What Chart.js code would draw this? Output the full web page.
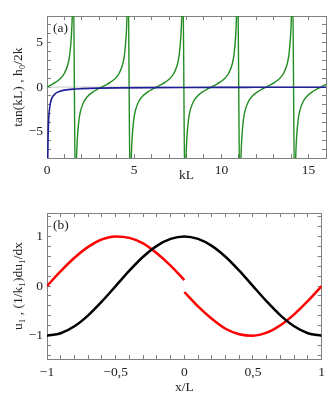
<!DOCTYPE html>
<html>
<head>
<meta charset="utf-8">
<script src="https://cdn.jsdelivr.net/npm/chart.js@4.4.1/dist/chart.umd.min.js"></script>
<style>
  body { margin: 0; background: #fff; }
  .panel { position: absolute; left: 0; width: 334px; height: 197px; }
  #pa { top: 0; }
  #pb { top: 197px; }
</style>
</head>
<body>
<div class="panel" id="pa"><canvas id="chartA"></canvas></div>
<div class="panel" id="pb"><canvas id="chartB"></canvas></div>
<script>
// panel (a): tan(kL) branches
const tanKL = [
  0, 0.3, 0.5, 0.8, 1.0, 1.2, 1.3, 1.4, 1.45, 1.5,
  1.64, 1.69, 1.74, 1.84, 1.94, 2.14, 2.34, 2.64, 2.84, 3.14, 3.44, 3.64, 3.94, 4.14, 4.34, 4.44, 4.54, 4.59, 4.64,
  4.78, 4.83, 4.88, 4.98, 5.08, 5.28, 5.48, 5.78, 5.98, 6.28, 6.58, 6.78, 7.08, 7.28, 7.48, 7.58, 7.68, 7.73, 7.78,
  7.92, 7.97, 8.02, 8.12, 8.22, 8.42, 8.62, 8.92, 9.12, 9.42, 9.72, 9.92, 10.22, 10.42, 10.62, 10.72, 10.82, 10.87, 10.92,
  11.07, 11.12, 11.17, 11.27, 11.37, 11.57, 11.77, 12.07, 12.27, 12.57, 12.87, 13.07, 13.37, 13.57, 13.77, 13.87, 13.97, 14.02, 14.07,
  14.21, 14.26, 14.31, 14.41, 14.51, 14.71, 14.91, 15.21, 15.41, 15.71, 16
];
const tanVal = [
  0, 0.31, 0.55, 1.03, 1.56, 2.57, 3.6, 5.8, 8.2, 14.1,
  -14.1, -8.2, -5.8, -3.6, -2.57, -1.56, -1.03, -0.55, -0.31, 0, 0.31, 0.55, 1.03, 1.56, 2.57, 3.6, 5.8, 8.2, 14.1,
  -14.1, -8.2, -5.8, -3.6, -2.57, -1.56, -1.03, -0.55, -0.31, 0, 0.31, 0.55, 1.03, 1.56, 2.57, 3.6, 5.8, 8.2, 14.1,
  -14.1, -8.2, -5.8, -3.6, -2.57, -1.56, -1.03, -0.55, -0.31, 0, 0.31, 0.55, 1.03, 1.56, 2.57, 3.6, 5.8, 8.2, 14.1,
  -14.1, -8.2, -5.8, -3.6, -2.57, -1.56, -1.03, -0.55, -0.31, 0, 0.31, 0.55, 1.03, 1.56, 2.57, 3.6, 5.8, 8.2, 14.1,
  -14.1, -8.2, -5.8, -3.6, -2.57, -1.56, -1.03, -0.55, -0.31, 0, 0.3
];
// h0/2k curve
const hKL = [0.04, 0.05, 0.075, 0.1, 0.13, 0.2, 0.3, 0.5, 0.75, 1, 1.5, 2, 3, 4, 6, 8, 10, 12, 14, 16];
const hVal = [-8.8, -7, -4.7, -3.5, -2.7, -1.75, -1.17, -0.7, -0.47, -0.35, -0.23, -0.18, -0.12, -0.09, -0.06, -0.045, -0.035, -0.03, -0.025, -0.022];

// panel (b)
const xL = [-1, -0.9, -0.8, -0.7, -0.6, -0.5, -0.4, -0.3, -0.2, -0.1, 0, 0.1, 0.2, 0.3, 0.4, 0.5, 0.6, 0.7, 0.8, 0.9, 1];
const u1 = [-1, -0.95, -0.81, -0.59, -0.31, 0, 0.31, 0.59, 0.81, 0.95, 1, 0.95, 0.81, 0.59, 0.31, 0, -0.31, -0.59, -0.81, -0.95, -1];
const xLeft = [-1, -0.9, -0.8, -0.7, -0.6, -0.5, -0.4, -0.3, -0.2, -0.1, 0];
const duLeft = [0, 0.30, 0.57, 0.79, 0.94, 1.0, 0.97, 0.86, 0.66, 0.41, 0.12];
const xRight = [0, 0.1, 0.2, 0.3, 0.4, 0.5, 0.6, 0.7, 0.8, 0.9, 1];
const duRight = [-0.12, -0.41, -0.66, -0.86, -0.97, -1.0, -0.94, -0.79, -0.57, -0.30, 0];

const FONT = "'Liberation Serif', 'DejaVu Serif', serif";
const pts = (xs, ys) => xs.map((x, i) => ({ x: x, y: ys[i] }));
const fmt = (v) => String(v).replace("-", "\u2212").replace(".", ",");

const axis = (pos, min, max, step, size, labels, pad) => ({
  type: "linear",
  position: pos,
  min: min,
  max: max,
  afterFit: (s) => {
    if (pos === "left" || pos === "right") s.width = size;
    else s.height = size;
  },
  border: { display: true, color: "#808080", width: 1 },
  grid: { drawOnChartArea: false, drawTicks: true, tickLength: -4, tickColor: "#808080" },
  ticks: {
    display: !!labels,
    stepSize: step,
    includeBounds: false,
    autoSkip: false,
    maxRotation: 0,
    padding: pad || 8,
    color: "#222",
    font: { family: FONT, size: 13.5 },
    callback: (v) => (labels && labels.some((l) => Math.abs(l - v) < 1e-6) ? fmt(v) : ""),
  },
});

const titles = {
  id: "titles",
  afterDraw(chart, args, o) {
    const ctx = chart.ctx;
    const a = chart.chartArea;
    ctx.save();
    ctx.fillStyle = "#222";
    ctx.font = "13.5px " + FONT;
    ctx.textBaseline = "middle";
    ctx.textAlign = "left";
    ctx.fillText(o.tag, a.left + 6, a.top + 12);
    ctx.textAlign = "center";
    ctx.fillText(o.x, (a.left + a.right) / 2, a.bottom + o.xOff);
    ctx.translate(o.yX, (a.top + a.bottom) / 2);
    ctx.rotate(-Math.PI / 2);
    ctx.fillText(o.y, 0, 0);
    ctx.restore();
  },
};

const lineDs = (data, color, width) => ({
  data: data,
  borderColor: color,
  borderWidth: width,
  pointRadius: 0,
  fill: false,
  clip: 0,
  cubicInterpolationMode: "monotone",
});

new Chart(document.getElementById("chartA"), {
  type: "line",
  data: {
    datasets: [
      lineDs(pts(hKL, hVal), "rgb(30,30,150)", 1.6),
      lineDs(pts(tanKL, tanVal), "rgb(34,140,34)", 1.4),
      lineDs([{ x: 0, y: 0 }, { x: 16, y: 0 }], "#c8c8c8", 1),
    ],
  },
  options: {
    responsive: true,
    maintainAspectRatio: false,
    animation: false,
    layout: { padding: { top: 8, right: 8, left: 0, bottom: 0 } },
    plugins: {
      legend: { display: false },
      tooltip: { enabled: false },
      titles: { tag: "(a)", x: "kL", xOff: 17, y: "tan(kL) , h\u2080/2k", yX: 18 },
    },
    scales: {
      x: axis("bottom", 0, 16, 1, 39, [0, 5, 10, 15]),
      xTop: axis("top", 0, 16, 1, 0, null),
      y: axis("left", -8, 8, 1, 47, [-5, 0, 5]),
      yRight: axis("right", -8, 8, 1, 0, null),
    },
  },
  plugins: [titles],
});

new Chart(document.getElementById("chartB"), {
  type: "line",
  data: {
    datasets: [
      lineDs(pts(xL, u1), "#000", 2.5),
      lineDs(pts(xLeft, duLeft), "rgb(255,0,0)", 2.5),
      lineDs(pts(xRight, duRight), "rgb(255,0,0)", 2.5),
    ],
  },
  options: {
    responsive: true,
    maintainAspectRatio: false,
    animation: false,
    layout: { padding: { top: 13, right: 8, left: 0, bottom: 0 } },
    plugins: {
      legend: { display: false },
      tooltip: { enabled: false },
      titles: { tag: "(b)", x: "x/L", xOff: 28, y: "u\u2081 , (1/k\u2081)du\u2081/dx", yX: 18 },
    },
    scales: {
      x: axis("bottom", -1, 1, 0.1, 35, [-1, -0.5, 0, 0.5, 1], 9),
      xTop: axis("top", -1, 1, 0.1, 0, null),
      y: axis("left", -1.47, 1.47, 0.2, 47, [-1, 0, 1]),
      yRight: axis("right", -1.47, 1.47, 0.2, 0, null),
    },
  },
  plugins: [titles],
});
</script>
</body>
</html>
